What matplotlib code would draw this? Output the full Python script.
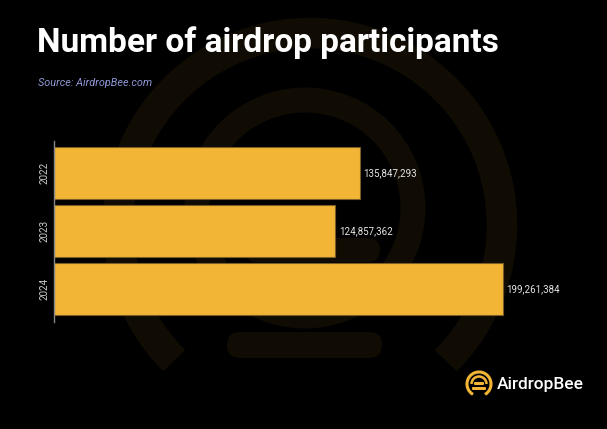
import matplotlib.pyplot as plt
from matplotlib.patches import Arc, FancyBboxPatch, Circle

years = ["2022", "2023", "2024"]
participants = [135847293, 124857362, 199261384]

BG = "#000000"
BAR = "#F2B535"
GHOST = "#100c04"

fig = plt.figure(figsize=(6.07, 4.29), dpi=100)
fig.patch.set_facecolor(BG)

# faint watermark logo behind everything
bg = fig.add_axes([0, 0, 1, 1], zorder=0)
bg.set_xlim(0, 607)
bg.set_ylim(429, 0)
bg.axis("off")
bg.set_facecolor(BG)
bg.add_patch(Arc((310, 225), 2 * 192, 2 * 192, theta1=135, theta2=405, color=GHOST, lw=22))
bg.add_patch(Circle((305, 208), 108, fill=False, ec=GHOST, lw=18))
bg.add_patch(FancyBboxPatch((227, 332), 155, 26, boxstyle="round,pad=0,rounding_size=13",
                            fc=GHOST, ec="none"))
bg.add_patch(FancyBboxPatch((245, 238), 135, 24, boxstyle="round,pad=0,rounding_size=12",
                            fc=GHOST, ec="none"))

ax = fig.add_axes([54 / 607, 1 - 322 / 429, 540 / 607, 181 / 429], zorder=1)
ax.patch.set_alpha(0)
pos = list(range(len(years)))
ax.barh(pos, participants, height=0.9, color=BAR, edgecolor="#7a5e25", linewidth=0.8)
ax.set_ylim(2.57, -0.55)
ax.set_xlim(0, 199261384 * 540 / 449)

for p, v in zip(pos, participants):
    ax.text(v + 1.5e6, p, f"{v:,}", va="center", ha="left", color="#e6e6e6",
            fontsize=7, family="Roboto")

ax.set_yticks(pos)
ax.set_yticklabels(years, rotation=90, va="center", color="#cccccc", fontsize=7,
                   family="Roboto")
ax.tick_params(axis="y", length=0, pad=3)
ax.set_xticks([])
for s in ["top", "right", "bottom"]:
    ax.spines[s].set_visible(False)
ax.spines["left"].set_color("#888888")
ax.spines["left"].set_linewidth(1)

fig.text(37 / 607, 1 - 52 / 429, "Number of airdrop participants", color="white",
         fontsize=24, fontweight="bold", family="Roboto", va="baseline", ha="left")
fig.text(38 / 607, 1 - 83 / 429, "Source: AirdropBee.com", color="#8f98d6",
         fontsize=7.8, style="italic", family="Roboto", va="center", ha="left")

# logo in the corner
bg.add_patch(Arc((479, 384), 24, 24, theta1=120, theta2=420, color=BAR, lw=2.2))
bg.add_patch(Arc((479, 384), 15, 15, theta1=180, theta2=360, color=BAR, lw=1.8))
bg.add_patch(FancyBboxPatch((474, 382), 10, 3, boxstyle="round,pad=0,rounding_size=1",
                            fc=BAR, ec="none"))
bg.add_patch(FancyBboxPatch((472, 387), 14, 3, boxstyle="round,pad=0,rounding_size=1",
                            fc=BAR, ec="none"))
fig.text(497 / 607, 1 - 384 / 429, "AirdropBee", color="white", fontsize=12.5,
         family="Roboto", fontweight="medium", va="center", ha="left")

fig.savefig("out.png", dpi=100, facecolor=BG)
